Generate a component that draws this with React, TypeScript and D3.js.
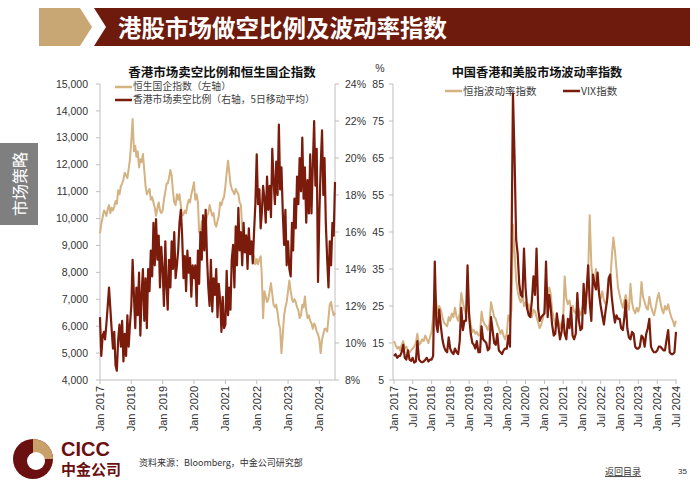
import React from 'react';
import * as d3 from 'd3';

const W = 700;
const H = 490;
const RED = '#7A1B0B';
const TAN = '#D4B282';
const AXIS = '#BFBFBF';
const TXT = '#333333';
const CJK = '"Noto Sans CJK SC", "Noto Sans", sans-serif';
const LAT = '"Liberation Sans", Arial, sans-serif';

// Semi-monthly observations (1st and 16th of each month), Jan 2017 – Jul 2024
const hsceiLevels = [
  // 2017
  9450, 9800, 10050, 10300, 10250, 10100, 10350, 10500, 10200, 10400, 10300, 10450,
  10650, 10550, 11050, 10900, 11200, 11300, 11450, 11700, 11600, 11500, 11850, 12200,
  // 2018
  12900, 13700, 12500, 12700, 12300, 12500, 11900, 12200, 12100, 12400, 11800, 11200,
  10900, 11000, 11100, 10700, 10800, 10600, 10400, 10100, 10400, 10600, 10300, 10200,
  // 2019
  10300, 10700, 11000, 11300, 11300, 11500, 11800, 11600, 11000, 10600, 10500, 10900,
  10700, 10900, 10500, 10100, 10150, 10300, 10200, 10500, 10700, 10600, 10900, 11100,
  // 2020
  11350, 10700, 10900, 10600, 9500, 9400, 9900, 9700, 9700, 9800, 10100, 10200,
  10500, 10300, 10100, 10200, 9800, 9700, 9900, 10100, 10600, 10500, 10700, 10800,
  // 2021
  11200, 11700, 12150, 11700, 11300, 11100, 11000, 10900, 11100, 11000, 10900, 10600,
  10500, 9600, 9400, 9100, 9400, 9200, 9300, 9100, 8800, 8700, 8600, 8300,
  // 2022
  8500, 8300, 8500, 8600, 7900, 6300, 7300, 7100, 6900, 7000, 7300, 7600,
  7200, 6800, 6700, 6800, 6500, 6100, 5900, 5000, 5700, 6400, 6700, 6900,
  // 2023
  7300, 7700, 7300, 7000, 6900, 7000, 6900, 6700, 6600, 6300, 6400, 6800,
  6700, 7100, 6600, 6300, 6400, 6200, 6100, 5900, 6100, 6000, 5800, 5700,
  // 2024
  5500, 5000, 5500, 5700, 5900, 5900, 5800, 6300, 6800, 6900, 6600, 6400, 6500,
];

const shortRatioPct = [
  // 2017
  11.4, 9.3, 10.4, 10.6, 10.2, 11.0, 12.0, 13.0, 11.9, 10.8, 9.7, 10.6,
  8.8, 8.5, 10.2, 11.0, 9.8, 11.2, 9.0, 10.5, 9.3, 11.5, 9.8, 11.0,
  // 2018
  12.0, 14.5, 12.5, 10.8, 13.0, 11.5, 13.8, 10.4, 12.6, 14.0, 11.2, 13.5,
  10.8, 14.0, 12.8, 15.0, 13.6, 16.5, 14.2, 16.7, 14.5, 15.8, 13.0, 15.2,
  // 2019
  14.0, 12.0, 15.5, 13.0, 11.8, 14.5, 13.0, 15.5, 14.0, 16.0, 13.5, 14.2,
  15.0, 16.5, 17.2, 15.8, 13.5, 14.7, 12.8, 15.0, 13.8, 14.6, 12.5, 14.2,
  // 2020
  13.5, 14.2, 12.0, 15.0, 13.2, 16.0, 14.5, 16.9, 15.0, 17.2, 14.6, 13.0,
  12.0, 14.5, 11.7, 13.5, 12.6, 14.0, 11.4, 13.2, 12.3, 10.6, 12.5, 10.8,
  // 2021
  11.0, 13.9, 11.5, 13.0, 11.8, 14.5, 15.3, 13.0, 16.3, 14.2, 17.3, 15.0,
  16.0, 14.2, 16.5, 14.9, 15.8, 14.0, 16.2, 14.8, 15.5, 14.3, 16.0, 17.5,
  // 2022
  20.2, 17.5, 18.3, 16.2, 17.0, 18.5, 17.8, 16.5, 19.0, 17.2, 18.5, 16.8,
  20.5, 18.8, 17.5, 19.8, 18.0, 21.8, 18.3, 19.5, 17.0, 15.3, 17.2, 14.2,
  // 2023
  15.5, 14.0, 13.6, 16.5, 15.0, 17.8, 16.2, 19.0, 17.5, 20.0, 18.2, 21.1,
  17.8, 19.5, 16.5, 18.8, 17.0, 20.2, 17.0, 19.5, 22.0, 18.5, 20.5, 13.3,
  // 2024
  17.0, 19.5, 21.5, 18.0, 20.0, 16.5, 14.5, 13.0, 15.5, 14.2, 16.5, 15.8, 18.7,
];

const vhsiLevels = [
  // 2017
  15.5, 14.5, 13.5, 14.0, 13.0, 14.5, 15.5, 13.5, 14.0, 13.0, 12.5, 13.0,
  13.5, 14.0, 15.0, 17.5, 14.5, 15.0, 16.0, 15.5, 17.0, 16.0, 15.0, 16.5,
  // 2018
  18.0, 22.0, 30.0, 26.0, 23.0, 25.0, 24.0, 22.0, 20.5, 20.0, 19.5, 22.0,
  21.0, 23.0, 22.0, 24.5, 22.0, 21.0, 23.0, 28.5, 26.0, 24.0, 22.5, 25.5,
  // 2019
  23.0, 20.0, 18.0, 18.5, 17.5, 18.0, 17.0, 17.5, 23.5, 21.0, 20.0, 19.5,
  18.5, 20.0, 26.0, 24.0, 22.0, 21.5, 20.0, 19.0, 17.5, 18.5, 17.0, 16.0,
  // 2020
  17.5, 22.5, 21.0, 24.0, 47.0, 40.0, 32.0, 29.0, 27.0, 26.0, 28.0, 25.0,
  26.0, 24.0, 25.5, 23.0, 22.0, 24.0, 23.5, 22.0, 20.5, 19.0, 20.0, 21.5,
  // 2021
  24.0, 26.0, 28.0, 30.0, 28.5, 24.0, 21.5, 20.0, 19.5, 21.0, 19.0, 20.5,
  21.0, 33.0, 27.0, 25.5, 26.5, 24.0, 25.0, 23.5, 23.0, 25.0, 24.0, 22.5,
  // 2022
  24.0, 26.0, 25.5, 29.0, 34.0, 49.5, 36.0, 32.0, 31.5, 35.0, 30.0, 28.5,
  27.0, 29.0, 26.5, 25.5, 27.0, 30.5, 31.5, 38.0, 43.5, 40.0, 35.0, 30.0,
  // 2023
  28.0, 26.0, 24.5, 26.5, 28.0, 25.5, 24.0, 31.0, 26.0, 24.0, 23.0, 24.5,
  23.5, 25.0, 31.5, 27.5, 26.0, 24.5, 24.0, 27.5, 25.0, 23.5, 22.5, 24.5,
  // 2024
  27.0, 28.5, 26.0, 24.0, 23.0, 25.0, 24.0, 25.5, 23.5, 22.0, 21.0, 19.5, 21.0,
];

const vixLevels = [
  // 2017
  11.5, 12.0, 11.0, 11.5, 11.5, 12.5, 14.5, 11.0, 10.5, 13.0, 10.5, 10.2,
  11.0, 9.7, 10.0, 15.5, 10.5, 10.0, 9.8, 10.0, 10.5, 11.0, 10.0, 10.5,
  // 2018
  10.5, 11.5, 37.0, 20.0, 18.0, 24.0, 19.5, 16.0, 14.0, 13.0, 12.5, 16.5,
  13.5, 12.5, 12.0, 13.5, 12.5, 12.0, 15.5, 24.5, 18.5, 21.0, 21.0, 36.0,
  // 2019
  22.0, 17.5, 15.0, 14.5, 13.5, 15.5, 12.5, 12.5, 19.5, 16.0, 15.5, 15.0,
  13.0, 13.5, 22.0, 18.5, 15.0, 14.5, 17.5, 13.0, 12.5, 12.0, 13.0, 13.5,
  // 2020
  13.5, 17.0, 14.0, 40.0, 82.5, 66.0, 43.0, 39.0, 31.0, 28.0, 27.5, 40.5,
  30.0, 24.5, 22.5, 22.0, 26.5, 33.0, 28.0, 40.5, 24.0, 21.0, 22.0, 22.5,
  // 2021
  23.0, 37.0, 22.0, 28.0, 25.0, 20.0, 17.0, 17.5, 23.0, 19.5, 16.0, 18.0,
  22.5, 17.5, 16.0, 21.5, 19.0, 24.5, 17.0, 16.0, 17.5, 28.5, 21.0, 18.5,
  // 2022
  19.0, 31.0, 23.0, 30.0, 36.0, 26.0, 21.0, 33.5, 31.0, 29.5, 34.0, 28.0,
  25.0, 22.5, 20.0, 23.5, 26.5, 32.5, 33.5, 27.5, 23.5, 20.5, 22.5, 21.5,
  // 2023
  21.5, 19.0, 18.5, 22.0, 26.5, 19.0, 16.5, 16.0, 18.0, 17.5, 14.0, 13.5,
  13.5, 14.0, 17.0, 16.5, 14.0, 17.5, 19.0, 21.5, 14.0, 13.0, 12.5, 12.5,
  // 2024
  13.0, 14.0, 14.0, 13.5, 13.0, 13.0, 16.0, 18.5, 12.5, 12.0, 12.0, 12.5, 18.0,
];

const leftYTicks = [4000, 5000, 6000, 7000, 8000, 9000, 10000, 11000, 12000, 13000, 14000, 15000];
const rightYTicks = [8, 10, 12, 14, 16, 18, 20, 22, 24];
const volYTicks = [5, 15, 25, 35, 45, 55, 65, 75, 85];
const yearTickLabels = ['Jan 2017', 'Jan 2018', 'Jan 2019', 'Jan 2020', 'Jan 2021', 'Jan 2022', 'Jan 2023', 'Jan 2024'];
const halfYearTickLabels = [
  'Jan 2017', 'Jul 2017', 'Jan 2018', 'Jul 2018', 'Jan 2019', 'Jul 2019', 'Jan 2020', 'Jul 2020',
  'Jan 2021', 'Jul 2021', 'Jan 2022', 'Jul 2022', 'Jan 2023', 'Jul 2023', 'Jan 2024', 'Jul 2024',
];

const parseTick = d3.timeParse('%b %Y');
const dateAt = (i: number) => new Date(2017, Math.floor(i / 2), i % 2 === 0 ? 1 : 16);
const toSeries = (vals: number[]) => vals.map((v, i) => ({ d: dateAt(i), v }));

const domainStart = new Date(2017, 0, 1);
const domainEnd = new Date(2024, 6, 1);

// Left chart scales
const L = { left: 100, right: 335, top: 84, bottom: 380 };
const xL = d3.scaleTime().domain([domainStart, domainEnd]).range([L.left, L.right]);
const yL = d3.scaleLinear().domain([4000, 15000]).range([L.bottom, L.top]);
const yR = d3.scaleLinear().domain([8, 24]).range([L.bottom, L.top]);

// Right chart scales
const R = { left: 393, right: 677, top: 84, bottom: 380 };
const xV = d3.scaleTime().domain([domainStart, domainEnd]).range([R.left + 1, R.right - 1]);
const yV = d3.scaleLinear().domain([5, 85]).range([R.bottom, R.top]);

const fmtThousands = d3.format(',');

function linePath(data: { d: Date; v: number }[], x: any, y: any) {
  return d3
    .line<{ d: Date; v: number }>()
    .x((p) => x(p.d))
    .y((p) => y(p.v))(data) as string;
}

function RotLabel({ x, y, text }: { x: number; y: number; text: string }) {
  return (
    <text
      transform={`translate(${x},${y}) rotate(-90)`}
      textAnchor="end"
      dy="0.35em"
      fontFamily={LAT}
      fontSize={11}
      fill={TXT}
    >
      {text}
    </text>
  );
}

function LeftChart() {
  const hs = toSeries(hsceiLevels);
  const sr = toSeries(shortRatioPct);
  return (
    <g>
      <text x={222} y={71} textAnchor="middle" dominantBaseline="central" fontFamily={CJK} fontWeight={700} fontSize={12.5} fill="#111">
        香港市场卖空比例和恒生国企指数
      </text>
      {/* axes */}
      <line x1={L.left} x2={L.left} y1={L.top} y2={L.bottom} stroke={AXIS} />
      <line x1={L.right} x2={L.right} y1={L.top} y2={L.bottom} stroke={AXIS} />
      <line x1={L.left} x2={L.right} y1={L.bottom} y2={L.bottom} stroke={AXIS} />
      {leftYTicks.map((t) => (
        <g key={'l' + t}>
          <line x1={L.left - 4} x2={L.left} y1={yL(t)} y2={yL(t)} stroke={AXIS} />
          <text x={L.left - 12} y={yL(t)} dy="0.35em" textAnchor="end" fontFamily={LAT} fontSize={10.5} fill={TXT}>
            {fmtThousands(t)}
          </text>
        </g>
      ))}
      {rightYTicks.map((t) => (
        <g key={'r' + t}>
          <line x1={L.right} x2={L.right + 4} y1={yR(t)} y2={yR(t)} stroke={AXIS} />
          <text x={L.right + 10} y={yR(t)} dy="0.35em" textAnchor="start" fontFamily={LAT} fontSize={10.5} fill={TXT}>
            {t}%
          </text>
        </g>
      ))}
      {yearTickLabels.map((lab) => {
        const x = xL(parseTick(lab) as Date);
        return (
          <g key={lab}>
            <line x1={x} x2={x} y1={L.bottom} y2={L.bottom + 4} stroke={AXIS} />
            <RotLabel x={x} y={L.bottom + 6} text={lab} />
          </g>
        );
      })}
      {/* legend */}
      <line x1={115} x2={132} y1={87} y2={87} stroke={TAN} strokeWidth={2.5} />
      <text x={133} y={87} dy="0.35em" fontFamily={CJK} fontSize={9.8} fill="#404040">恒生国企指数（左轴）</text>
      <line x1={115} x2={132} y1={100} y2={100} stroke={RED} strokeWidth={2.5} />
      <text x={133} y={100} dy="0.35em" fontFamily={CJK} fontSize={9.8} fill="#404040">香港市场卖空比例（右轴，5日移动平均）</text>
      {/* series */}
      <path d={linePath(hs, xL, yL)} fill="none" stroke={TAN} strokeWidth={2} strokeLinejoin="round" />
      <path d={linePath(sr, xL, yR)} fill="none" stroke={RED} strokeWidth={2.2} strokeLinejoin="round" />
    </g>
  );
}

function RightChart() {
  const vh = toSeries(vhsiLevels);
  const vx = toSeries(vixLevels);
  return (
    <g>
      <text x={537} y={72} textAnchor="middle" dominantBaseline="central" fontFamily={CJK} fontWeight={700} fontSize={12.2} fill="#111">
        中国香港和美股市场波动率指数
      </text>
      <text x={380} y={68} textAnchor="middle" dominantBaseline="central" fontFamily={LAT} fontSize={10.5} fill={TXT}>%</text>
      <line x1={R.left} x2={R.left} y1={R.top} y2={R.bottom} stroke={AXIS} />
      <line x1={R.left} x2={R.right} y1={R.bottom} y2={R.bottom} stroke={AXIS} />
      {volYTicks.map((t) => (
        <g key={'v' + t}>
          <line x1={R.left - 4} x2={R.left} y1={yV(t)} y2={yV(t)} stroke={AXIS} />
          <text x={R.left - 9} y={yV(t)} dy="0.35em" textAnchor="end" fontFamily={LAT} fontSize={10.5} fill={TXT}>
            {t}
          </text>
        </g>
      ))}
      {halfYearTickLabels.map((lab) => {
        const x = xV(parseTick(lab) as Date);
        return (
          <g key={lab}>
            <line x1={x} x2={x} y1={R.bottom} y2={R.bottom + 4} stroke={AXIS} />
            <RotLabel x={x} y={R.bottom + 6} text={lab} />
          </g>
        );
      })}
      {/* legend */}
      <line x1={445} x2={462} y1={91} y2={91} stroke={TAN} strokeWidth={2.5} />
      <text x={463} y={91} dy="0.35em" fontFamily={CJK} fontSize={10.5} fill="#404040">恒指波动率指数</text>
      <line x1={563} x2={580} y1={91} y2={91} stroke={RED} strokeWidth={2.5} />
      <text x={581} y={91} dy="0.35em" fontFamily={CJK} fontSize={10.5} fill="#404040">VIX指数</text>
      <path d={linePath(vh, xV, yV)} fill="none" stroke={TAN} strokeWidth={2} strokeLinejoin="round" />
      <path d={linePath(vx, xV, yV)} fill="none" stroke={RED} strokeWidth={2.2} strokeLinejoin="round" />
    </g>
  );
}

function Header() {
  return (
    <g>
      <polygon points="39,8 80,8 92,27 80,46 39,46" fill="#C8A774" />
      <polygon points="94,8 690,8 690,46 94,46 106,27" fill="#6E1A0C" />
      <text x={118} y={27} dominantBaseline="central" fontFamily={CJK} fontWeight={700} fontSize={23.5} fill="#FFFFFF">
        港股市场做空比例及波动率指数
      </text>
    </g>
  );
}

function SideTab() {
  return (
    <g>
      <rect x={0} y={143} width={38} height={82} fill="#7F7F7F" />
      <text transform="translate(19,184) rotate(-90)" textAnchor="middle" dominantBaseline="central" fontFamily={CJK} fontSize={16} fill="#FFFFFF">
        市场策略
      </text>
    </g>
  );
}

function Footer() {
  const cx = 33;
  const cy = 459;
  const r = 20;
  const wedge = d3.arc()({ innerRadius: 0, outerRadius: r, startAngle: 0, endAngle: Math.PI / 2 }) as string;
  return (
    <g>
      <circle cx={cx} cy={cy} r={r} fill="#6B1010" />
      <path d={wedge} transform={`translate(${cx},${cy})`} fill="#C8A06A" />
      <circle cx={cx + 3} cy={cy + 2} r={9} fill="#FFFFFF" />
      <text x={61} y={456} fontFamily={LAT} fontWeight={700} fontSize={20} fill="#6B1010">CICC</text>
      <text x={61} y={475} fontFamily={CJK} fontWeight={700} fontSize={15} fill="#6B1010">中金公司</text>
      <text x={139} y={463} dy="0.35em" fontFamily={CJK} fontSize={9} fill={TXT}>资料来源：Bloomberg，中金公司研究部</text>
      <text x={605} y={472} dy="0.35em" fontFamily={CJK} fontSize={9} fill={TXT} textDecoration="underline">返回目录</text>
      <text x={678} y={471} dy="0.35em" fontFamily={LAT} fontSize={8} fill={TXT}>35</text>
    </g>
  );
}

export default function App() {
  return (
    <svg
      width={W}
      height={H}
      viewBox={`0 0 ${W} ${H}`}
      style={{ position: 'absolute', left: 0, top: 0, display: 'block', background: '#FFFFFF' }}
    >
      <rect x={0} y={0} width={W} height={H} fill="#FFFFFF" />
      <Header />
      <SideTab />
      <LeftChart />
      <RightChart />
      <Footer />
    </svg>
  );
}
